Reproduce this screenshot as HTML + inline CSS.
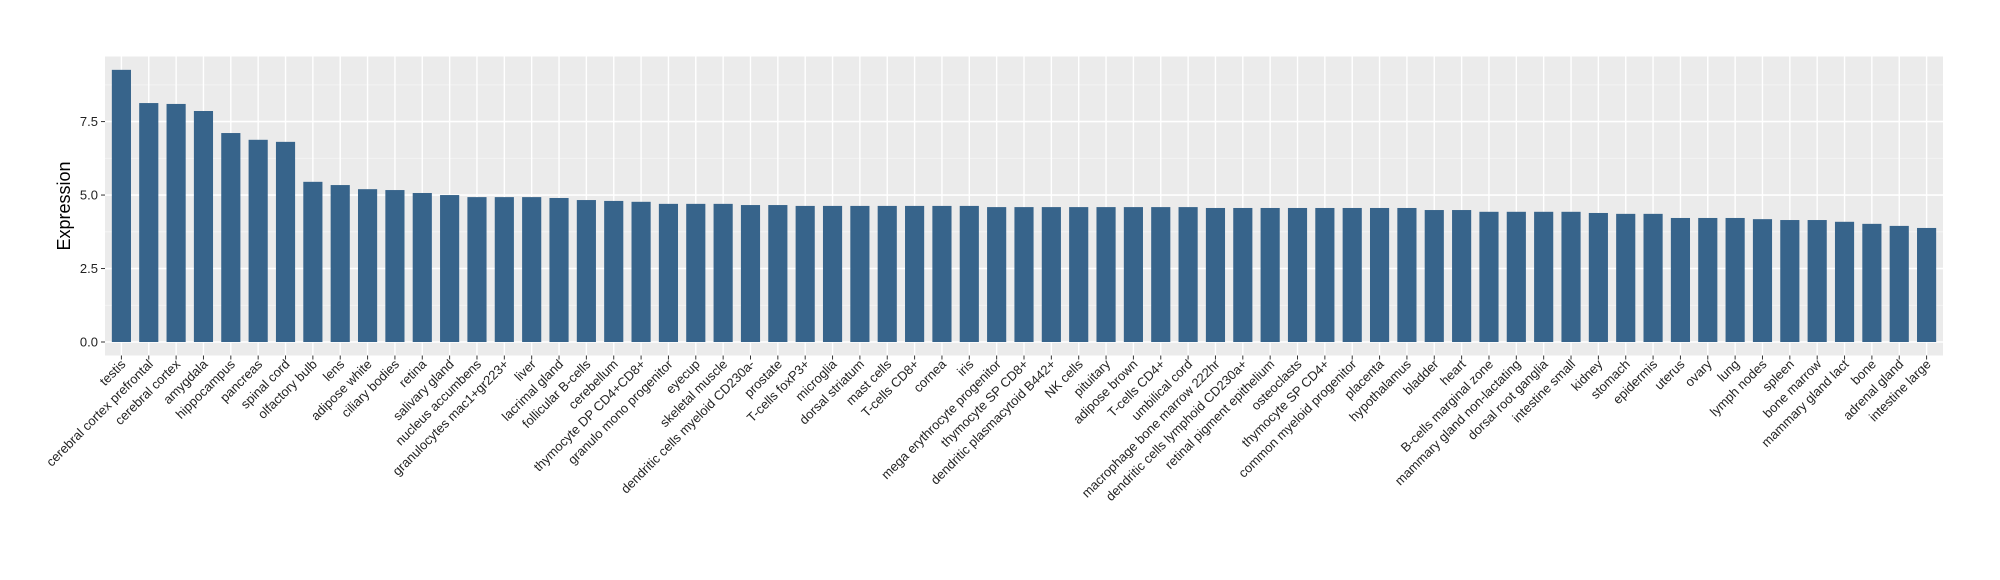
<!DOCTYPE html>
<html><head><meta charset="utf-8">
<style>
html,body{margin:0;padding:0;background:#fff;}
svg{display:block;font-family:"Liberation Sans",sans-serif;}
</style></head>
<body>
<svg id="chart" width="2000" height="580" viewBox="0 0 2000 580" xmlns="http://www.w3.org/2000/svg">
<rect x="0" y="0" width="2000" height="580" fill="#fff"/>
<rect x="105" y="56.5" width="1838" height="299" fill="#ebebeb"/>
<g id="grid"></g>
<g id="bars"></g>
<g id="yaxis"></g>
<g id="xaxis"></g>
<text x="65" y="206" transform="rotate(-90 65 206)" text-anchor="middle" dominant-baseline="middle" font-size="18" fill="#000">Expression</text>
</svg>
<script>
const categories = ["testis","cerebral cortex prefrontal","cerebral cortex","amygdala","hippocampus","pancreas","spinal cord","olfactory bulb","lens","adipose white","ciliary bodies","retina","salivary gland","nucleus accumbens","granulocytes mac1+gr223+","liver","lacrimal gland","follicular B-cells","cerebellum","thymocyte DP CD4+CD8+","granulo mono progenitor","eyecup","skeletal muscle","dendritic cells myeloid CD230a-","prostate","T-cells foxP3+","microglia","dorsal striatum","mast cells","T-cells CD8+","cornea","iris","mega erythrocyte progenitor","thymocyte SP CD8+","dendritic plasmacytoid B442+","NK cells","pituitary","adipose brown","T-cells CD4+","umbilical cord","macrophage bone marrow 222hr","dendritic cells lymphoid CD230a+","retinal pigment epithelium","osteoclasts","thymocyte SP CD4+","common myeloid progenitor","placenta","hypothalamus","bladder","heart","B-cells marginal zone","mammary gland non-lactating","dorsal root ganglia","intestine small","kidney","stomach","epidermis","uterus","ovary","lung","lymph nodes","spleen","bone marrow","mammary gland  lact","bone","adrenal gland","intestine large"];
const values = [9.26,8.13,8.10,7.86,7.11,6.88,6.81,5.45,5.34,5.20,5.17,5.07,5.00,4.93,4.93,4.93,4.90,4.83,4.80,4.77,4.70,4.70,4.70,4.66,4.66,4.63,4.63,4.63,4.63,4.63,4.63,4.63,4.59,4.59,4.59,4.59,4.59,4.59,4.59,4.59,4.56,4.56,4.56,4.56,4.56,4.56,4.56,4.56,4.49,4.49,4.43,4.43,4.43,4.43,4.39,4.36,4.36,4.22,4.22,4.22,4.18,4.15,4.15,4.09,4.02,3.95,3.88];
const yTicks = [0, 2.5, 5, 7.5];
const yTickLabels = ["0.0","2.5","5.0","7.5"];
const yMinor = [1.25, 3.75, 6.25, 8.75];

const NS = "http://www.w3.org/2000/svg";
const panelL = 105, panelR = 1943, panelT = 56.5, panelB = 355.5;
const y0px = 342.0, unitPx = 29.39;
function yScale(v){ return y0px - v * unitPx; }
const band = (panelR - panelL) / (categories.length - 1 + 1.2);
function xScale(i){ return panelL + (i + 0.6) * band; }
function mk(tag, attrs){ const e = document.createElementNS(NS, tag); for (const k in attrs) e.setAttribute(k, attrs[k]); return e; }

const grid = document.getElementById('grid');
yMinor.forEach(v => {
  const l = mk('line', {x1: panelL, x2: panelR, y1: yScale(v), y2: yScale(v), stroke: '#f5f5f5', 'stroke-width': 0.8});
  
  
  grid.appendChild(l);
});
yTicks.forEach(v => {
  const l = mk('line', {x1: panelL, x2: panelR, y1: yScale(v), y2: yScale(v), stroke: '#fff', 'stroke-width': 1.6});
  
  
  grid.appendChild(l);
});
categories.forEach((c, i) => {
  const x = xScale(i);
  const l = mk('line', {x1: x, x2: x, y1: panelT, y2: panelB, stroke: '#fff', 'stroke-width': 1.4});
  
  
  grid.appendChild(l);
});

const bars = document.getElementById('bars');
const bw = band * 0.7;
values.forEach((v, i) => {
  const r = mk('rect', {x: xScale(i) - bw / 2, y: yScale(v), width: bw, height: yScale(0) - yScale(v), fill: '#37648b'});
  
  
  bars.appendChild(r);
});

const yaxis = document.getElementById('yaxis');
yTicks.forEach((v, i) => {
  const t = mk('line', {x1: panelL - 4, x2: panelL, y1: yScale(v), y2: yScale(v), stroke: '#333', 'stroke-width': 1});
  
  
  yaxis.appendChild(t);
  const tx = mk('text', {x: panelL - 7, y: yScale(v) + 4.5, 'text-anchor': 'end', 'font-size': 13, fill: '#222'});
  tx.textContent = yTickLabels[i];
  
  
  yaxis.appendChild(tx);
});

const xaxis = document.getElementById('xaxis');
categories.forEach((c, i) => {
  const x = xScale(i);
  const t = mk('line', {x1: x, x2: x, y1: panelB, y2: panelB + 4, stroke: '#333', 'stroke-width': 1});
  
  
  xaxis.appendChild(t);
  const lx = x + 5, ly = 365;
  const tx = mk('text', {x: lx, y: ly, 'text-anchor': 'end', 'font-size': 13, fill: '#222', transform: 'rotate(-45 ' + lx + ' ' + ly + ')'});
  tx.setAttribute('xml:space', 'preserve');
  tx.textContent = c;
  
  
  xaxis.appendChild(tx);
});
</script>
</body></html>
